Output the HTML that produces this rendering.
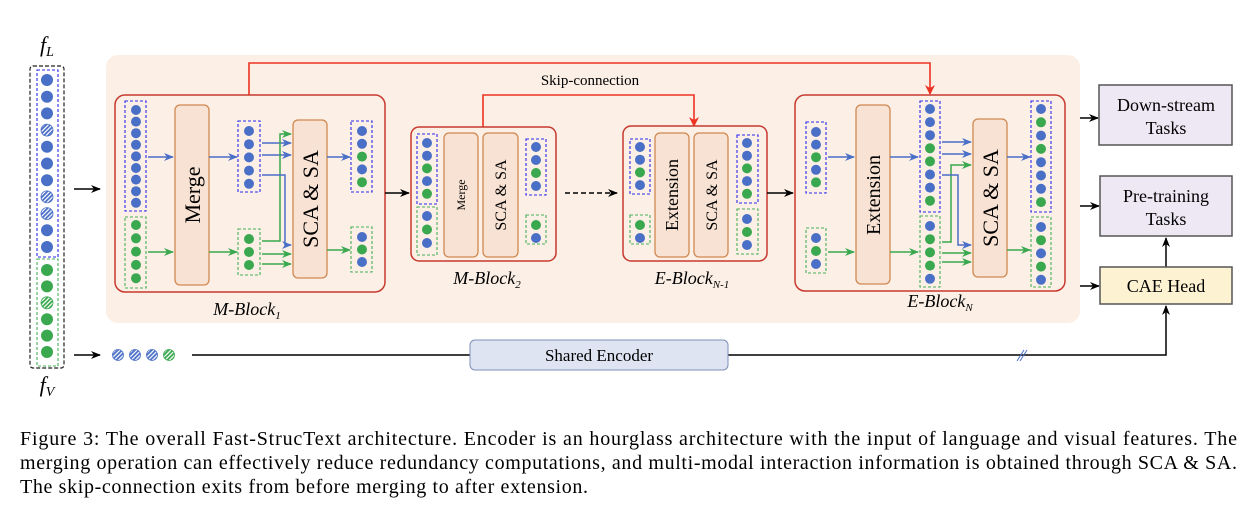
<!DOCTYPE html>
<html><head><meta charset="utf-8"><style>
html,body{margin:0;padding:0;background:#fff;}
svg{display:block;}
.s{font-family:"Liberation Serif",serif;}
</style></head><body>
<svg id="g" width="1259" height="522" viewBox="0 0 1259 522" xmlns="http://www.w3.org/2000/svg" class="s">
<defs>
<pattern id="hb" width="3" height="3" patternUnits="userSpaceOnUse" patternTransform="rotate(45)"><rect width="3" height="3" fill="#fff"/><rect width="1.8" height="3" fill="#4a6fc7"/></pattern>
<pattern id="hg" width="3" height="3" patternUnits="userSpaceOnUse" patternTransform="rotate(45)"><rect width="3" height="3" fill="#fff"/><rect width="1.8" height="3" fill="#3aa84f"/></pattern>
<marker id="ak" markerWidth="10" markerHeight="8" refX="9" refY="4" orient="auto" markerUnits="userSpaceOnUse"><path d="M0,0 L10,4 L0,8 L3,4z" fill="#000"/></marker>
<marker id="ab" markerWidth="10" markerHeight="8" refX="9" refY="4" orient="auto" markerUnits="userSpaceOnUse"><path d="M0,0 L10,4 L0,8 L3,4z" fill="#4a6fc7"/></marker>
<marker id="ag" markerWidth="10" markerHeight="8" refX="9" refY="4" orient="auto" markerUnits="userSpaceOnUse"><path d="M0,0 L10,4 L0,8 L3,4z" fill="#3aa84f"/></marker>
<marker id="ar" markerWidth="10" markerHeight="10" refX="5" refY="9" orient="0" markerUnits="userSpaceOnUse"><path d="M0,0 L5,10 L10,0 L5,3z" fill="#ee3322"/></marker>
</defs>
<rect x="106" y="55" width="974" height="268" rx="12" fill="#fbefe6"/>
<polyline points="249,95 249,63 930,63 930,94" fill="none" stroke="#ee3322" stroke-width="1.6" marker-end="url(#ar)"/>
<polyline points="483,127 483,95 694,95 694,126" fill="none" stroke="#ee3322" stroke-width="1.6" marker-end="url(#ar)"/>
<text x="590" y="85" font-size="15" text-anchor="middle">Skip-connection</text>
<g fill="#fbefe6" stroke="#c8392f" stroke-width="1.5">
<rect x="115" y="95" width="270" height="197" rx="10"/>
<rect x="411" y="127" width="145" height="134" rx="8"/>
<rect x="623" y="126" width="144" height="135" rx="8"/>
<rect x="795" y="95" width="270" height="196" rx="10"/>
</g>
<g fill="#f8e2d3" stroke="#d08850" stroke-width="1.3">
<rect x="175" y="105" width="34" height="180" rx="5"/>
<rect x="293" y="120" width="34" height="158" rx="5"/>
<rect x="444" y="133" width="34" height="124" rx="5"/>
<rect x="483" y="133" width="35" height="124" rx="5"/>
<rect x="655" y="133" width="34" height="124" rx="5"/>
<rect x="694" y="133" width="34" height="124" rx="5"/>
<rect x="856" y="105" width="34" height="179" rx="5"/>
<rect x="973" y="119" width="34" height="158" rx="5"/>
</g>
<g font-size="22">
<text transform="translate(200,195) rotate(-90)" text-anchor="middle">Merge</text>
<text transform="translate(318,199) rotate(-90)" text-anchor="middle">SCA &amp; SA</text>
<text transform="translate(465,195) rotate(-90)" text-anchor="middle" font-size="12">Merge</text>
<text transform="translate(506,195) rotate(-90)" text-anchor="middle" font-size="16">SCA &amp; SA</text>
<text transform="translate(678,195) rotate(-90)" text-anchor="middle" font-size="18">Extension</text>
<text transform="translate(717,195) rotate(-90)" text-anchor="middle" font-size="16">SCA &amp; SA</text>
<text transform="translate(880,195) rotate(-90)" text-anchor="middle" font-size="20">Extension</text>
<text transform="translate(998,198) rotate(-90)" text-anchor="middle">SCA &amp; SA</text>
</g>
<g font-size="18" font-style="italic" text-anchor="middle">
<text x="247" y="315">M-Block<tspan font-size="11" dy="4">1</tspan></text>
<text x="487" y="284">M-Block<tspan font-size="11" dy="4">2</tspan></text>
<text x="692" y="284">E-Block<tspan font-size="11" dy="4">N-1</tspan></text>
<text x="940" y="307">E-Block<tspan font-size="11" dy="4">N</tspan></text>
<text x="47" y="52" font-size="22">f<tspan font-size="14" dy="4">L</tspan></text>
<text x="47" y="392" font-size="22">f<tspan font-size="14" dy="4">V</tspan></text>
</g>
<rect x="30" y="66" width="34" height="302" rx="3" fill="none" stroke="#222" stroke-dasharray="4,2" stroke-width="1.2"/>
<g id="dots"></g>
<g stroke="#000" stroke-width="1.5" fill="none">
<line x1="74" y1="189" x2="100" y2="189" marker-end="url(#ak)"/>
<line x1="74" y1="355" x2="100" y2="355" marker-end="url(#ak)"/>
<line x1="385" y1="193" x2="409" y2="193" marker-end="url(#ak)"/>
<line x1="565" y1="193" x2="617" y2="193" stroke-dasharray="5,3" marker-end="url(#ak)"/>
<line x1="767" y1="193" x2="793" y2="193" marker-end="url(#ak)"/>
<line x1="1080" y1="118" x2="1098" y2="118" marker-end="url(#ak)"/>
<line x1="1080" y1="206" x2="1099" y2="206" marker-end="url(#ak)"/>
<line x1="1080" y1="286" x2="1099" y2="286" marker-end="url(#ak)"/>
<line x1="1166" y1="267" x2="1166" y2="238" marker-end="url(#ak)"/>
<line x1="192" y1="355" x2="470" y2="355"/>
<polyline points="728,355 1166,355 1166,306" marker-end="url(#ak)"/>
</g>
<g stroke="#4a6fc7" stroke-width="1"><line x1="1017" y1="361" x2="1024" y2="350"/><line x1="1020" y1="361" x2="1027" y2="350"/></g>
<rect x="470" y="340" width="258" height="30" rx="5" fill="#dfe4f3" stroke="#7f8fb8" stroke-width="1"/>
<text x="599" y="361" font-size="17" text-anchor="middle">Shared Encoder</text>
<rect x="1099" y="85" width="133" height="60" fill="#eee8f4" stroke="#555" stroke-width="1.5"/>
<rect x="1100" y="176" width="132" height="60" fill="#eee8f4" stroke="#555" stroke-width="1.5"/>
<rect x="1100" y="267" width="132" height="37" fill="#fdf3d3" stroke="#555" stroke-width="1.5"/>
<g font-size="18" text-anchor="middle">
<text x="1166" y="111">Down-stream</text><text x="1166" y="134">Tasks</text>
<text x="1166" y="202">Pre-training</text><text x="1166" y="225">Tasks</text>
<text x="1166" y="292">CAE Head</text>
</g>
<g id="arr" fill="none" stroke-width="1.5"></g>
<g font-size="20">
<text x="20" y="445" textLength="1217" lengthAdjust="spacing">Figure 3: The overall Fast-StrucText architecture. Encoder is an hourglass architecture with the input of language and visual features. The</text>
<text x="20" y="469" textLength="1217" lengthAdjust="spacing">merging operation can effectively reduce redundancy computations, and multi-modal interaction information is obtained through SCA &amp; SA.</text>
<text x="20" y="493" textLength="568" lengthAdjust="spacing">The skip-connection exits from before merging to after extension.</text>
</g>
</svg>
<script>
var NS="http://www.w3.org/2000/svg";
var D=document.getElementById("dots"),A=document.getElementById("arr");
function el(p,t,a){var e=document.createElementNS(NS,t);for(var k in a)e.setAttribute(k,a[k]);p.appendChild(e);return e;}
var C={b:"#4a6fc7",g:"#3aa84f",B:"url(#hb)",G:"url(#hg)"};
function dot(x,y,c,r){var a={cx:x,cy:y,r:r||5,fill:C[c]};if(c=="B")a.stroke="#4a6fc7";if(c=="G")a.stroke="#3aa84f";if(c=="B"||c=="G")a["stroke-width"]=0.8;el(D,"circle",a);}
function col(x,y0,step,s,r){for(var i=0;i<s.length;i++)dot(x,y0+i*step,s[i],r);}
function row(x0,y,step,s,r){for(var i=0;i<s.length;i++)dot(x0+i*step,y,s[i],r);}
function box(x,y,w,h,c){el(D,"rect",{x:x,y:y,width:w,height:h,fill:"none",stroke:c=="b"?"#2a2aee":"#45b055","stroke-dasharray":"3,2","stroke-width":1.1});}
box(37,70,21,187,"b");box(37,259,21,107,"g");
col(47,80,16.7,"bbbBbbbBBbb",6);col(47,270,16.4,"ggGggg",6);
row(118,355,17,"BBBG",5.5);
box(125,101,21,110,"b");col(136,110,11.6,"bbbbbbbbb");
box(125,217,21,71,"g");col(136,225,13.3,"ggggg");
box(238,121,22,71,"b");col(249,131,13.2,"bbbbb");
box(238,229,22,46,"g");col(249,239,13,"ggg");
box(351,121,21,71,"b");col(362,131,12.8,"bbgbg");
box(351,227,21,45,"g");col(362,237,12.5,"bgb");
box(417,134,20,70,"b");col(427,143,12.7,"bbgbg");
box(417,207,20,48,"g");col(427,216,13.5,"bgb");
box(526,139,20,56,"b");col(536,147,13,"bbgb");
box(526,215,20,29,"g");col(536,225,13,"gb");
box(630,139,20,55,"b");col(640,147,12.7,"bbgb");
box(630,215,20,29,"g");col(640,225,13,"gb");
box(737,135,21,68,"b");col(747,143,12.7,"bbgbg");
box(737,209,21,45,"g");col(747,219,13,"bgb");
box(806,122,20,71,"b");col(816,132,12.6,"bbgbg");
box(806,228,20,45,"g");col(816,238,13,"bgb");
box(920,101,20,111,"b");col(930,109,13.1,"bbbggbbg");
box(920,216,20,71,"g");col(930,226,13.2,"bgggb");
box(1031,101,20,111,"b");col(1041,109,13.3,"bgbgbbbg");
box(1031,217,20,70,"g");col(1041,227,13.2,"bgbgb");
function ar(pts,c){el(A,"polyline",{points:pts,stroke:c=="b"?"#4a6fc7":"#3aa84f","marker-end":"url(#a"+c+")"});}
ar("148,157 173,157","b");ar("148,252 173,252","g");
ar("209,157 237,157","b");ar("209,252 237,252","g");
ar("262,143 291,143","b");ar("262,155 291,155","b");
ar("262,241 280,241 280,134 291,134","g");
ar("262,175 285,175 285,245 291,245","b");
ar("262,254 291,254","g");ar("262,264 291,264","g");
ar("327,157 350,157","b");ar("327,250 350,250","g");
ar("828,157 854,157","b");ar("828,252 854,252","g");
ar("890,157 918,157","b");ar("890,252 918,252","g");
ar("942,142 971,142","b");ar("942,154 971,154","b");
ar("942,242 951,242 951,165 971,165","g");
ar("942,175 958,175 958,245 971,245","b");
ar("942,253 971,253","g");ar("942,262 971,262","g");
ar("1007,157 1030,157","b");ar("1007,250 1030,250","g");
</script>
</body></html>
